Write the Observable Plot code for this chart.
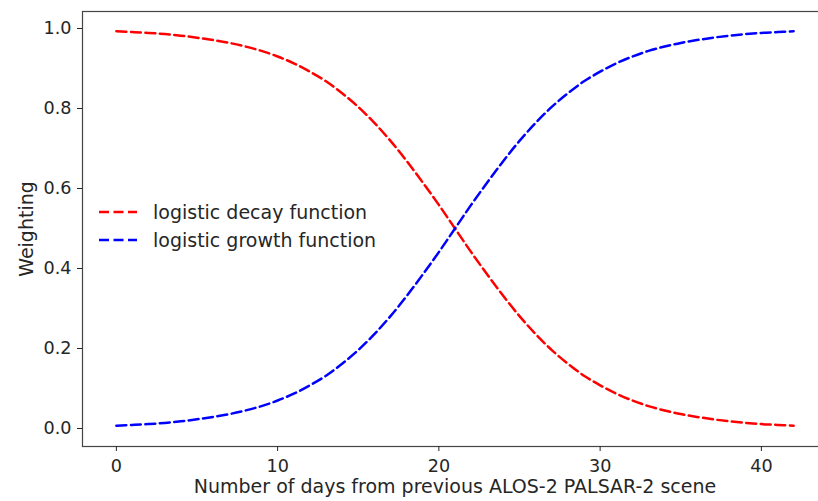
<!DOCTYPE html>
<html>
<head>
<meta charset="utf-8">
<script src="https://cdn.jsdelivr.net/npm/d3@7"></script>
<script src="https://cdn.jsdelivr.net/npm/@observablehq/plot@0.6"></script>
<style>
  html, body { margin: 0; padding: 0; background: #fff; }
  #wrap { position: relative; width: 818px; height: 501px; overflow: hidden; font-family: "DejaVu Sans", sans-serif; }
  #legend { position: absolute; left: 99px; top: 198px; font-size: 19px; color: #262626; }
  .item { display: flex; align-items: center; height: 28px; }
  .item svg { margin-right: 16px; }
</style>
</head>
<body>
<div id="wrap"></div>
<script>
const days = d3.range(0, 43);
const decay = [0.993,0.991,0.989,0.986,0.982,0.977,0.971,0.964,0.955,0.944,0.930,0.913,0.892,0.868,0.838,0.804,0.764,0.719,0.669,0.615,0.559,0.500,0.441,0.385,0.331,0.281,0.236,0.196,0.162,0.132,0.108,0.087,0.070,0.056,0.045,0.036,0.029,0.023,0.018,0.014,0.011,0.009,0.007];
const growth = [0.007,0.009,0.011,0.014,0.018,0.023,0.029,0.036,0.045,0.056,0.070,0.087,0.108,0.132,0.162,0.196,0.236,0.281,0.331,0.385,0.441,0.500,0.559,0.615,0.669,0.719,0.764,0.804,0.838,0.868,0.892,0.913,0.930,0.944,0.955,0.964,0.971,0.977,0.982,0.986,0.989,0.991,0.993];
const xTicks = [0, 10, 20, 30, 40];
const yTicks = [0, 0.2, 0.4, 0.6, 0.8, 1.0];
const seriesNames = ["logistic decay function", "logistic growth function"];
const seriesColors = ["#ff0000", "#0000ff"];

const decayData = days.map((d, i) => ({x: d, y: decay[i]}));
const growthData = days.map((d, i) => ({x: d, y: growth[i]}));

const chart = Plot.plot({
  width: 818,
  height: 501,
  marginLeft: 82,
  marginRight: -9,
  marginTop: 11,
  marginBottom: 55,
  style: {fontFamily: "DejaVu Sans, sans-serif", fontSize: "17.6px", color: "#262626", background: "#fff", overflow: "hidden"},
  x: {domain: [-2.1, 44.1]},
  y: {domain: [-0.045, 1.0425]},
  marks: [
    Plot.frame({stroke: "#444", strokeWidth: 1.2}),
    Plot.axisX({ticks: xTicks, tickSize: 5, tickPadding: 8, tickFormat: d => String(d), label: null, fontSize: 17.6}),
    Plot.axisX({ticks: [], tickSize: 0, label: "Number of days from previous ALOS-2 PALSAR-2 scene", labelAnchor: "center", labelOffset: 46, labelArrow: "none", fontSize: 19}),
    Plot.axisY({ticks: yTicks, tickSize: 5, tickPadding: 6, tickFormat: d3.format(".1f"), label: null, fontSize: 17.6}),
    Plot.axisY({ticks: [], tickSize: 0, label: "Weighting", labelAnchor: "center", labelOffset: 63, labelArrow: "none", fontSize: 19}),
    Plot.line(decayData, {x: "x", y: "y", stroke: seriesColors[0], strokeWidth: 2.5, strokeDasharray: "10,4.5", curve: "catmull-rom"}),
    Plot.line(growthData, {x: "x", y: "y", stroke: seriesColors[1], strokeWidth: 2.5, strokeDasharray: "10,4.5", curve: "catmull-rom"})
  ]
});
const wrap = document.getElementById("wrap");
wrap.appendChild(chart);

const legend = document.createElement("div");
legend.id = "legend";
seriesNames.forEach((name, i) => {
  const item = document.createElement("div");
  item.className = "item";
  item.innerHTML = `<svg width="38" height="6"><line x1="0" y1="3" x2="38" y2="3" stroke="${seriesColors[i]}" stroke-width="2.5" stroke-dasharray="10,4.5"/></svg><span>${name}</span>`;
  legend.appendChild(item);
});
wrap.appendChild(legend);
</script>
</body>
</html>
